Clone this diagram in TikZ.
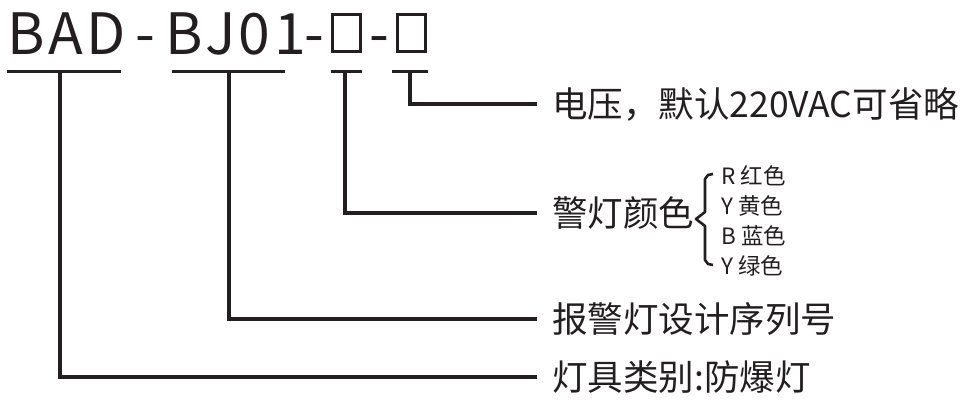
\documentclass[tikz,border=0pt]{standalone}
\usepackage{fontspec}
\setmainfont{Noto Sans CJK SC}
\newfontfamily\titlefont[LetterSpace=6]{Noto Sans CJK SC}
\definecolor{inkblack}{HTML}{231F20}
\usetikzlibrary{positioning}

\begin{document}
\begin{tikzpicture}[x=1pt, y=-1pt, inkblack,
    ttl/.style={inner sep=0pt, font=\titlefont\fontsize{57}{57}\selectfont},
    slot/.style={draw, line width=3pt, minimum width=28pt, minimum height=37pt, inner sep=0pt},
    uline/.style={line width=3pt},
    lead/.style={line width=3.2pt},
    lbl/.style={anchor=west, inner xsep=15pt, inner ysep=0pt, font=\fontsize{35.5}{36}\selectfont},
    item/.style={anchor=west, inner sep=0pt, font=\fontsize{22.5}{23}\selectfont}]
  \useasboundingbox (0,0) rectangle (969,401);
  % model code
  \node[ttl, anchor=base west] (bad) at (7,55) {BAD};
  \node[ttl, anchor=base] (dash1) at (145,55) {-};
  \node[ttl, anchor=base west] (bj) at (165,55) {BJ01};
  \node[ttl, anchor=base] (dash2) at (314,55) {-};
  \node[slot] (box1) at (346.5,33) {};
  \node[ttl, anchor=base] (dash3) at (379,55) {-};
  \node[slot] (box2) at (411,33) {};
  % underlines
  \draw[uline] (7,72) -- (121,72);
  \draw[uline] (172,72) -- (285,72);
  \draw[uline] (331,72) -- (362,72);
  \draw[uline] (392,72) -- (428,72);
  \coordinate (badtap) at (60,72);
  \coordinate (bjtap) at (229,72);
  \coordinate (box1tap) at (345,72);
  \coordinate (box2tap) at (410,72);
  % labels
  \node[lbl] (volt) at (537,104) {电压，默认220VAC可省略};
  \node[lbl] (colour) at (537,213) {警灯颜色};
  \node[lbl] (serial) at (537,319) {报警灯设计序列号};
  \node[lbl] (kind) at (537,377) {灯具类别:防爆灯};
  % leaders
  \draw[lead] (box2tap) |- (volt.west);
  \draw[lead] (box1tap) |- (colour.west);
  \draw[lead] (bjtap) |- (serial.west);
  \draw[lead] (badtap) |- (kind.west);
  % colour options
  \draw[line width=2.6pt, line join=round]
    (713,174) -- (708,175) -- (705,179) -- (705,212) -- (696,219)
    -- (705,226) -- (705,260) -- (708,264) -- (713,265);
  \node[item] (red) at (721,176) {R 红色};
  \node[item] (yellow) at (721,206) {Y 黄色};
  \node[item] (blue) at (721,236) {B 蓝色};
  \node[item] (green) at (721,266) {Y 绿色};
\end{tikzpicture}
\end{document}
